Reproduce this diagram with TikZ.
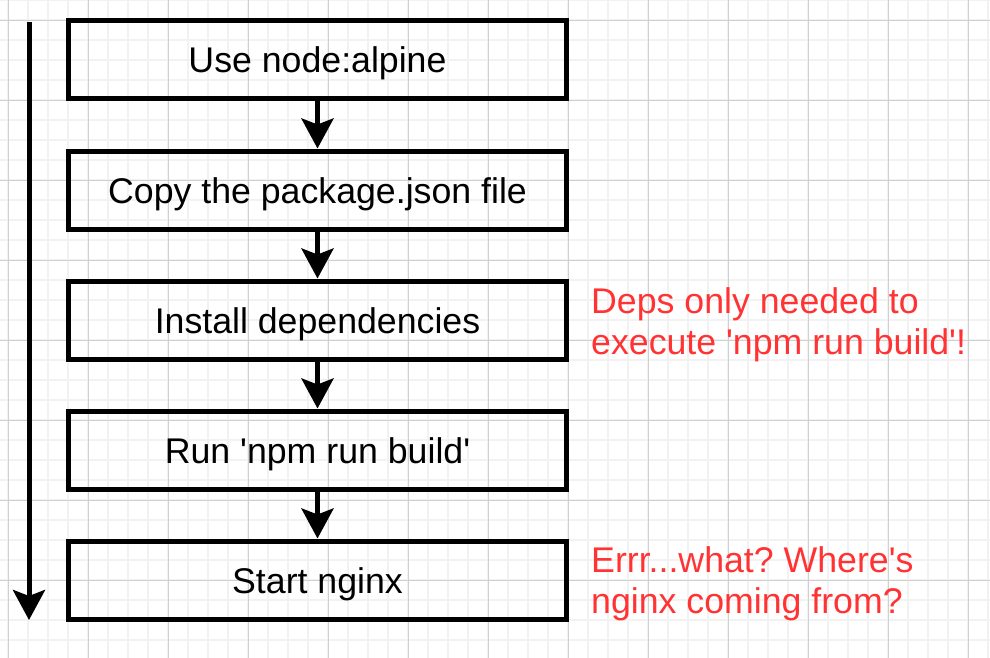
\documentclass[tikz,border=0pt]{standalone}
\usepackage{fontspec}
\setmainfont{Liberation Sans}[Ligatures=TeXOff]
\usetikzlibrary{arrows.meta}
\usetikzlibrary{positioning}
\definecolor{notered}{RGB}{255,51,51}
\definecolor{gridminor}{RGB}{242,242,242}
\definecolor{gridmajor}{RGB}{208,208,208}
\frenchspacing

\begin{document}
\begin{tikzpicture}[x=1pt, y=-1pt,
  stepbox/.style={draw, line width=5pt, minimum width=498pt, minimum height=78pt,
    inner sep=0pt, text height=26pt, text depth=0pt, font=\fontsize{35.7}{41}\selectfont},
  flow/.style={line width=5pt, -{Stealth[length=30pt, width=32pt, inset=6pt]}},
  note/.style={text=notered, align=left, inner sep=0pt, font=\fontsize{35.7}{41}\selectfont},
  minorline/.style={gridminor, line width=1.5pt},
  majorline/.style={gridmajor, line width=0.8pt}]
\useasboundingbox (0,0) rectangle (990,658);
\fill[white] (0,0) rectangle (990,658);
% background grid
\foreach \gx in {8,28,...,988} \draw[minorline] (\gx,0) -- (\gx,658);
\foreach \gy in {0,20,...,640} \draw[minorline] (0,\gy) -- (990,\gy);
\foreach \gx in {8,88,...,968} \draw[majorline] (\gx,0) -- (\gx,658);
\foreach \gy in {20,100,...,580} \draw[majorline] (0,\gy) -- (990,\gy);
% steps
\node[stepbox] (alpine) at (317.5,60) {Use node:alpine};
\node[stepbox] (copy) at (317.5,190) {Copy the package.json file};
\node[stepbox] (install) at (317.5,320) {Install dependencies};
\node[stepbox] (build) at (317.5,450) {Run 'npm run build'};
\node[stepbox] (nginx) at (317.5,580) {Start nginx};
\draw[flow] (alpine) -- (copy);
\draw[flow] (copy) -- (install);
\draw[flow] (install) -- (build);
\draw[flow] (build) -- (nginx);
% time line
\coordinate (first) at (29,22);
\coordinate (last) at (29,620);
\draw[flow] (first) -- (last);
% remarks
\node[note, anchor=base west] (depsnote) at (591,354) {Deps only needed to\\execute 'npm run build'!};
\node[note, anchor=base west] (nginxnote) at (591,613) {Errr...what? Where's\\nginx coming from?};
\end{tikzpicture}
\end{document}
